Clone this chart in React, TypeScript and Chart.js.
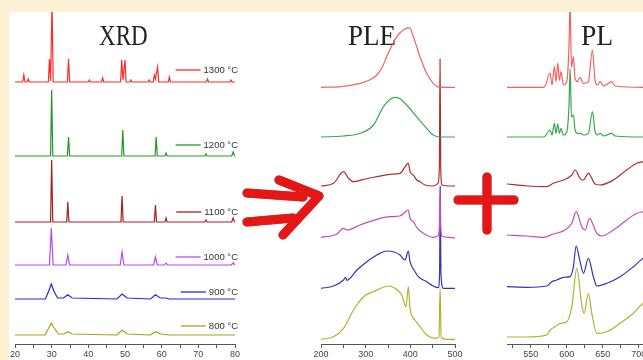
import React, { useEffect, useRef } from "react";
import { Chart, registerables } from "chart.js";

Chart.register(...registerables);

type Pt = [number, number];

// ---------- labels / ticks ----------
const temperatures = ["1300 °C", "1200 °C", "1100 °C", "1000 °C", "900 °C", "800 °C"];
const panelTitles = ["XRD", "PLE", "PL"];
const xrdTicks = [20, 30, 40, 50, 60, 70, 80];
const xrdMinorTicks = [25, 35, 45, 55, 65, 75];
const pleTicks = [200, 300, 400, 500];
const pleMinorTicks = [250, 350, 450];
const plTicks = [550, 600, 650, 700];
const plMinorTicks = [525, 575, 625, 675];

// vertical stacking offsets of each temperature curve (intensity units)
const xrdOffsets = [262, 188, 122, 79, 45, 9];
const pleOffsets = [256.7, 207, 158, 106.7, 55.7, 4.7];
const plOffsets = [256.7, 207, 158, 107, 57, 7];

// ---------- XRD (2θ, intensity) ----------
const xrd1300: Pt[] = [[20,0],[22.1,0],[22.4,7],[22.7,0],[23.3,0],[23.6,3],[23.9,0],[29.1,0],[29.4,23],[29.7,1],[29.8,1],[30.1,80],[30.4,0],[34.3,0],[34.6,23],[34.9,0],[40.0,0],[40.3,2],[40.6,0],[43.6,0],[43.9,4],[44.2,0],[48.8,0],[49.1,22],[49.45,2],[50.0,22],[50.3,0],[51.3,0],[51.6,2],[51.9,0],[56.3,0],[56.6,2],[56.9,0],[57.7,0],[58.0,7],[58.3,3],[58.9,15],[59.2,0],[61.8,0],[62.1,5],[62.4,0],[72.2,0],[72.5,3],[72.8,0],[78.6,0],[78.9,2],[79.2,0],[80,0]];
const xrd1200: Pt[] = [[20,0],[29.7,0],[30.0,66],[30.3,0],[34.3,0],[34.6,19],[34.9,0],[49.1,0],[49.4,26],[49.7,0],[58.2,0],[58.5,19],[58.8,0],[60.9,0],[61.2,3],[61.5,0],[71.8,0],[72.1,2],[72.4,0],[79.1,0],[79.5,4],[79.9,0],[80,0]];
const xrd1100: Pt[] = [[20,0],[29.7,0],[30.0,62],[30.3,0],[34.1,0],[34.4,20],[34.7,0],[48.9,0],[49.2,26],[49.5,0],[58.0,0],[58.3,17],[58.6,0],[60.9,0],[61.2,4],[61.5,0],[71.8,0],[72.1,2],[72.4,0],[79.1,0],[79.5,4],[79.9,0],[80,0]];
const xrd1000: Pt[] = [[20,0],[29.4,0],[29.9,37],[30.4,0],[33.9,0],[34.4,10],[34.9,0],[48.7,0],[49.2,13],[49.7,0],[57.8,0],[58.3,8],[58.8,0],[60.8,0],[61.2,2],[61.6,0],[79.0,0],[79.5,2],[80,0]];
const xrd900: Pt[] = [[20,0],[28.3,0],[29.2,8],[29.9,15],[30.6,8],[31.6,1],[33.2,1],[34.4,4.3],[35.6,1],[47.8,0],[49.2,5],[50.6,1],[57.0,0],[58.3,4.3],[59.6,1],[61.2,1],[62,0],[80,0]];
const xrd800: Pt[] = [[20,0],[28.2,0],[29.2,7],[29.9,11.7],[30.7,7],[31.8,1],[33.2,1],[34.4,3.3],[35.6,1],[47.8,0],[49.2,5],[50.6,1],[56.9,0],[58.3,3.3],[59.7,1],[62,0],[80,0]];

// ---------- PLE (wavelength nm, intensity) ----------
const ple1300: Pt[] = [[200,0],[240,0.5],[287.7,4],[310,7.5],[325,12.3],[337,20],[347,30.6],[358,41],[369.6,50.6],[384.5,57.3],[397.9,59.6],[406.8,50.6],[414,41],[421.6,30.6],[436.6,14],[451.4,4],[466.3,0],[502,0]];
const ple1200: Pt[] = [[200,0],[250,1],[287.7,3.7],[317.5,12],[339.8,30.3],[354.6,37.7],[365.8,39.7],[377,38.3],[391.8,32],[414.1,20.3],[436.4,8.7],[451.3,2],[466.1,0],[502,0]];
const ple1100: Pt[] = [[200,0],[228,2.7],[250.4,14.3],[261.6,7.7],[272.8,4.3],[295,6.7],[325,9.3],[354.7,11.7],[377,12.7],[395.6,22.7],[399.3,14.3],[406.7,11],[414.3,6],[421.7,4.3],[432.8,1],[451.3,0],[462,2.7],[465,20],[466.5,127],[468,20],[471,1],[488.6,0],[503,0]];
const ple1000: Pt[] = [[200,0],[235,3],[250.4,9],[257.8,7.3],[287.6,12.3],[325,18],[354.7,20.6],[377,21.3],[395.6,27.3],[399.3,19],[406.7,15.6],[414.3,10],[429,4],[451.3,0],[462,1.5],[465,10],[466.5,47],[468,10],[471,1],[488,0],[502,-1]];
const ple900: Pt[] = [[200,0],[228,2.3],[250.4,8.3],[255,11],[258,8],[280.4,18.3],[302.7,26.6],[325,33.3],[347.3,37.3],[362,36.6],[377,33.3],[388,28.3],[395.5,37.3],[399.3,26.6],[410.5,16.6],[417.9,11.6],[436.6,6.6],[451.3,2.3],[462.5,0.6],[465.5,15],[466.8,102],[468.5,15],[473.7,0],[502,0]];
const ple800: Pt[] = [[200,0],[228,2.6],[250.4,11],[272.8,29.3],[295,42.6],[317.5,47.6],[339.8,52],[350.9,53.3],[365.8,51],[380.8,44.3],[390.4,32.6],[395.5,52.6],[399.3,31],[410.5,19.3],[421.6,12.6],[436.6,4.3],[455.2,1],[464,2],[466.7,51],[469,2],[481,0],[502,0]];

// ---------- PL (wavelength nm, intensity) ----------
const pl1300: Pt[] = [[517,0],[567.5,0],[570,1.3],[576.8,14.3],[579.5,2.3],[582.8,21],[585,5.7],[587.5,24.3],[589.8,7],[592,15.7],[595.3,2.3],[600,5.7],[603,40],[604.6,85],[606.5,20],[609.2,30.7],[611.5,9],[614.7,5.7],[618.5,10],[623,4],[630,5.7],[635.6,37.3],[639.3,7],[642.5,2.3],[646.3,5.7],[651,1.3],[662.5,5.7],[667,1.3],[706,0],[712,0]];
const pl1200: Pt[] = [[517,0],[567.5,0],[570,1],[576.8,7],[579.5,2],[582.8,13.7],[585,3.7],[587.5,13],[589.8,3.7],[592,8.7],[595.3,2],[600,5.3],[603,30],[604.6,68.7],[606.5,20],[609.2,22],[611.5,7],[614.7,3.7],[618.5,3.7],[623,2],[630,3.7],[635.6,25.3],[639.3,5.3],[642.5,2],[646.3,3.7],[651,1],[662.5,3.7],[667,1],[706,0],[712,0]];
const pl1100: Pt[] = [[517,2],[544.4,0],[572.2,-0.7],[581.4,2.7],[595.3,6],[607,11],[611.5,16],[618.5,7.7],[623,6],[630,12.7],[639.3,2],[646.3,1],[664.7,6],[683.3,16],[697.2,22.7],[706,24.3],[712,25.5]];
const pl1000: Pt[] = [[517,2],[544.4,1],[567.6,-0.3],[581.4,3],[597.6,7],[607,13.7],[613,25.3],[620.9,10.3],[625.5,7],[631.5,18.7],[641.7,3.7],[648.6,1],[664.7,7],[683.3,17],[697.2,23.7],[706,25.3],[712,26]];
const pl900: Pt[] = [[517,0.3],[544.4,-0.3],[572.2,1],[579.2,5.3],[586.1,7],[595.3,9.7],[604.6,10.3],[609.2,20.3],[612.9,41],[618.5,25.3],[623.1,13.7],[630,28.7],[636.9,10.3],[641.7,1],[655.6,3.7],[674,10.3],[692.5,20.3],[706,28.7],[712,31]];
const pl800: Pt[] = [[517,0],[544.4,0],[572.2,2],[576.9,7],[583.8,10.3],[590.8,13.7],[600,15.3],[607,30.3],[613.9,68.7],[620.9,32],[624,23.7],[630,43.7],[634.7,23.7],[641.7,3.7],[655.6,5.3],[674,13.7],[692.5,23.7],[706,33.7],[712,36]];

// ---------- styles ----------
const xrdColors = ["#ff2a2a", "#1f9a24", "#a61e22", "#b548f5", "#2727e0", "#a3a21e"];
const specColors = ["#f26262", "#3aa653", "#a8302e", "#c24cb8", "#3434b4", "#b2b22e"];
const legendLift = [12, 11, 10, 8, 7, 9];

const TOP = 12;
const CANVAS_H = 348;
const AXIS_H = 16;
const PLOT_H = CANVAS_H - AXIS_H;
const SANS = '"Liberation Sans", Arial, sans-serif';
const SERIF = '"Liberation Serif", "Times New Roman", serif';

type PanelProps = {
  series: Pt[][];
  offsets: number[];
  colors: string[];
  min: number;
  max: number;
  major: number[];
  minor: number[];
  left: number;
  width: number;
  padLeft: number;
  padRight: number;
  title: string;
  titleX: number;
  titleY: number;
  titleScale: number;
  smooth: boolean;
  legend?: boolean;
};

function Panel(p: PanelProps) {
  const ref = useRef<HTMLCanvasElement>(null);
  useEffect(() => {
    const canvas = ref.current;
    if (!canvas) return;
    const allTicks = [...p.major, ...p.minor].sort((a, b) => a - b);
    const titlePlugin = {
      id: "panelTitle",
      beforeDatasetsDraw(chart: any) {
        const ctx = chart.ctx;
        ctx.save();
        ctx.font = "30px " + SERIF;
        ctx.fillStyle = "#222";
        ctx.textBaseline = "alphabetic";
        ctx.textAlign = "left";
        ctx.translate(p.titleX - p.left, p.titleY - TOP);
        ctx.scale(p.titleScale, 1);
        ctx.fillText(p.title, 0, 0);
        ctx.restore();
      },
    };
    const legendPlugin = {
      id: "tempLegend",
      afterDatasetsDraw(chart: any) {
        if (!p.legend) return;
        const { ctx, chartArea, scales } = chart;
        ctx.save();
        ctx.font = "9.5px " + SANS;
        ctx.textBaseline = "middle";
        ctx.textAlign = "right";
        temperatures.forEach((label, i) => {
          const y = scales.y.getPixelForValue(p.offsets[i] + legendLift[i]);
          const right = chartArea.right + 3;
          const w = ctx.measureText(label).width;
          ctx.fillStyle = "#333";
          ctx.fillText(label, right, y);
          ctx.strokeStyle = p.colors[i];
          ctx.lineWidth = 1.3;
          ctx.beginPath();
          ctx.moveTo(right - w - 28, y);
          ctx.lineTo(right - w - 3, y);
          ctx.stroke();
        });
        ctx.restore();
      },
    };
    const chart = new Chart(canvas, {
      type: "line",
      data: {
        datasets: p.series.map((pts, i) => ({
          label: temperatures[i],
          data: pts.map(([x, y]) => ({ x, y: y + p.offsets[i] })),
          borderColor: p.colors[i],
          borderWidth: 1.2,
          pointRadius: 0,
          fill: false,
          tension: p.smooth ? 0.4 : 0,
          cubicInterpolationMode: p.smooth ? "monotone" : "default",
        })),
      },
      options: {
        responsive: false,
        animation: false,
        devicePixelRatio: 1,
        events: [],
        layout: { padding: { left: p.padLeft, right: p.padRight, top: 0, bottom: 0 } },
        plugins: { legend: { display: false }, tooltip: { enabled: false }, title: { display: false } },
        scales: {
          x: {
            type: "linear",
            min: p.min,
            max: p.max,
            afterBuildTicks: (s: any) => {
              s.ticks = allTicks.map((v) => ({ value: v }));
            },
            afterFit: (s: any) => {
              s.height = AXIS_H;
              s.paddingLeft = 0;
              s.paddingRight = 0;
            },
            ticks: {
              autoSkip: false,
              maxRotation: 0,
              padding: 1,
              color: "#444",
              font: { size: 9, family: SANS },
              callback: (v: any) => (p.major.includes(Number(v)) ? String(v) : ""),
            },
            grid: { drawOnChartArea: false, drawTicks: true, tickLength: 4, color: "#555" },
            border: { display: true, color: "#555", width: 1 },
          },
          y: { type: "linear", display: false, min: 0, max: PLOT_H },
        },
      } as any,
      plugins: [titlePlugin, legendPlugin],
    });
    return () => chart.destroy();
  }, []);
  return (
    <canvas
      ref={ref}
      width={p.width}
      height={CANVAS_H}
      style={{ position: "absolute", left: p.left, top: TOP, width: p.width, height: CANVAS_H }}
    />
  );
}

export default function App() {
  return (
    <div
      style={{
        position: "fixed",
        left: 0,
        top: 0,
        width: 643,
        height: 360,
        overflow: "hidden",
        background: "#fdf1d3",
      }}
    >
      <div style={{ position: "absolute", left: 9, top: TOP, width: 634, height: 348, background: "#ffffff" }} />
      <Panel
        series={[xrd1300, xrd1200, xrd1100, xrd1000, xrd900, xrd800]}
        offsets={xrdOffsets}
        colors={xrdColors}
        min={20}
        max={80}
        major={xrdTicks}
        minor={xrdMinorTicks}
        left={9}
        width={241}
        padLeft={6}
        padRight={15}
        title={panelTitles[0]}
        titleX={99}
        titleY={45}
        titleScale={0.77}
        smooth={false}
        legend
      />
      <Panel
        series={[ple1300, ple1200, ple1100, ple1000, ple900, ple800]}
        offsets={pleOffsets}
        colors={specColors}
        min={200}
        max={500}
        major={pleTicks}
        minor={pleMinorTicks}
        left={300}
        width={165}
        padLeft={21}
        padRight={10}
        title={panelTitles[1]}
        titleX={348}
        titleY={45}
        titleScale={0.9}
        smooth
      />
      <Panel
        series={[pl1300, pl1200, pl1100, pl1000, pl900, pl800]}
        offsets={plOffsets}
        colors={specColors}
        min={517}
        max={710}
        major={plTicks}
        minor={plMinorTicks}
        left={497}
        width={160}
        padLeft={10}
        padRight={11}
        title={panelTitles[2]}
        titleX={581}
        titleY={45}
        titleScale={0.92}
        smooth
      />
      <svg
        width={643}
        height={360}
        style={{ position: "absolute", left: 0, top: 0, pointerEvents: "none" }}
      >
        <g
          stroke="#e41616"
          strokeWidth={9}
          strokeLinecap="round"
          strokeLinejoin="round"
          fill="none"
          style={{ filter: "drop-shadow(0.5px 0.5px 0.6px rgba(110,0,0,0.6))" }}
        >
          <path d="M247 193 L303 197" />
          <path d="M247 222 L293 218" />
          <path d="M279 180 L319 196 L283 235" />
          <path d="M458 200 L514 200" />
          <path d="M487 177 L487 230" />
        </g>
      </svg>
    </div>
  );
}
